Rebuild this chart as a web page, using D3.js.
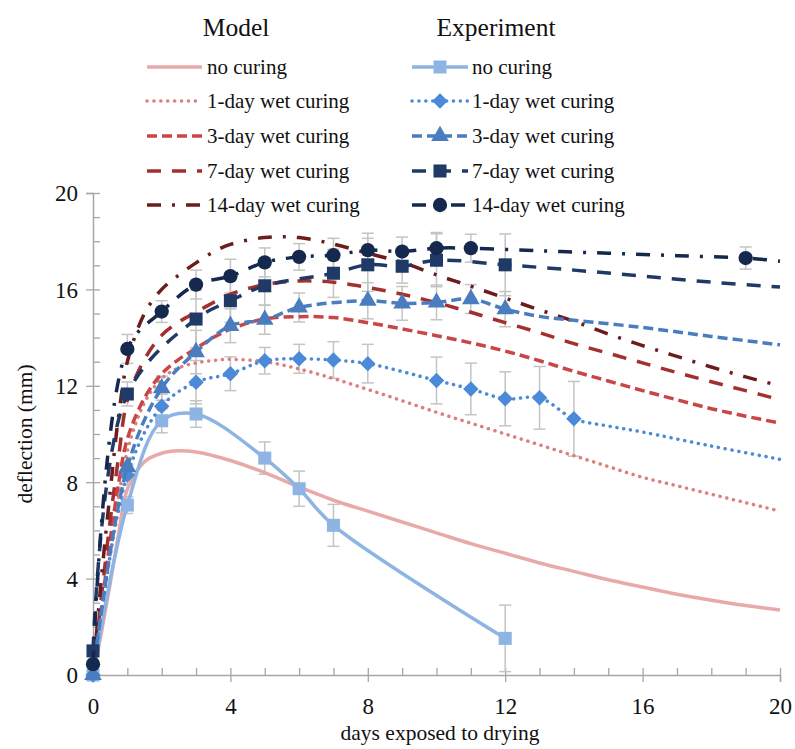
<!DOCTYPE html>
<html><head><meta charset="utf-8">
<script src="https://cdn.jsdelivr.net/npm/d3@7"></script>
</head>
<body style="margin:0;background:#fff">
<svg id="chart" width="795" height="749"></svg>
<script>
// ---------- data ----------
const modelDays = [0,0.25,0.5,0.75,1,1.5,2,2.5,3,3.5,4,5,6,7,8,9,10,11,12,13,14,15,16,17,18,19,20];
const modelNoCuring = [0,1.8,3.8,5.9,7.7,8.85,9.2,9.3,9.25,9.1,8.9,8.4,7.8,7.25,6.8,6.35,5.9,5.45,5.05,4.65,4.3,3.95,3.65,3.35,3.1,2.88,2.7];
const model1Day = [0,2.4,5.0,7.4,9.3,11.3,12.3,12.75,12.95,13.05,13.1,13.0,12.7,12.3,11.85,11.38,10.9,10.45,10.0,9.55,9.1,8.65,8.2,7.85,7.5,7.15,6.8];
const model3Day = [0,2.8,5.6,8.0,9.8,11.5,12.5,13.1,13.55,14.0,14.35,14.78,14.87,14.83,14.62,14.36,14.08,13.78,13.44,13.04,12.6,12.2,11.8,11.42,11.05,10.74,10.45];
const model7Day = [0,3.3,6.4,9.1,11.4,13.1,14.1,14.65,15.05,15.45,15.8,16.2,16.35,16.3,16.08,15.8,15.45,15.05,14.62,14.2,13.75,13.35,12.95,12.55,12.17,11.8,11.42];
const model14Day = [0,4.1,7.6,10.8,13.0,15.0,16.0,16.6,17.1,17.55,17.87,18.15,18.15,17.88,17.5,17.12,16.6,16.13,15.64,15.15,14.68,14.15,13.67,13.22,12.78,12.37,12.0];

// measured points (markers + error bars)
const expNoDays = [0,1,2,3,5,6,7,12];
const expNoVals = [0,7.05,10.55,10.83,9.0,7.73,6.21,1.52];
const expNoErr  = [0.15,0.35,0.5,0.55,0.67,0.73,0.87,1.38];
const exp1Days = [0,1,2,3,4,5,6,7,8,10,11,12,13,14];
const exp1Vals = [0,8.3,11.15,12.15,12.5,13.04,13.12,13.07,12.92,12.22,11.87,11.46,11.5,10.63];
const exp1Err  = [0.1,0.4,0.5,0.9,0.7,0.55,0.6,0.76,0.8,0.97,1.07,1.12,1.3,1.55];
const exp3Days = [0,1,2,3,4,5,6,8,9,10,11,12];
const exp3Vals = [0,8.63,11.9,13.4,14.49,14.74,15.25,15.53,15.42,15.46,15.6,15.18];
const exp3Err  = [0.1,0.4,0.5,0.9,0.7,0.6,0.6,0.75,0.7,0.72,0.6,0.73];
const exp7Days = [0,1,3,4,5,7,8,9,10,12];
const exp7Vals = [1.0,11.66,14.77,15.53,16.15,16.67,17.02,16.96,17.21,17.02];
const exp7Err  = [0.1,0.5,1.2,0.9,0.8,1.0,1.1,0.7,1.1,1.28];
const exp14Days = [0,1,2,3,4,5,6,7,8,9,10,11,19];
const exp14Vals = [0.45,13.53,15.08,16.2,16.55,17.12,17.35,17.42,17.63,17.57,17.71,17.71,17.3];
const exp14Err  = [0.1,0.6,0.45,0.6,0.7,0.6,0.55,0.7,0.7,0.6,0.65,0.58,0.46];

// line continuation beyond the last measured point (no markers)
const exp1TailDays = [15,16,18,20];
const exp1TailVals = [10.33,10.08,9.5,8.95];
const exp3TailDays = [13,14,16,18,20];
const exp3TailVals = [14.88,14.72,14.42,14.05,13.7];
const exp7TailDays = [14,16,18,20];
const exp7TailVals = [16.8,16.55,16.3,16.1];
const exp14TailDays = [13,15,17,20];
const exp14TailVals = [17.6,17.5,17.4,17.17];

const seriesLabels = ["no curing","1-day wet curing","3-day wet curing","7-day wet curing","14-day wet curing"];
const xTicks = [0,4,8,12,16,20];
const yTicks = [0,4,8,12,16,20];

// ---------- setup ----------
const FONT = "'Liberation Serif', serif";
const svg = d3.select("#chart");
const x = d3.scaleLinear().domain([0,20]).range([93,780]);
const y = d3.scaleLinear().domain([0,20]).range([675,193]);
const axisColor = "#a6a6a6";

const modelStyles = [
  {color:"#e8aaa9", dash:null, cap:"butt"},
  {color:"#dc7f7d", dash:"0.1,6.8", cap:"round"},
  {color:"#c94646", dash:"10,5", cap:"butt"},
  {color:"#a32f2e", dash:"14,11", cap:"butt"},
  {color:"#6b1d1d", dash:"14,11,3,11", cap:"butt"}
];
const expStyles = [
  {color:"#8db4e2", dash:null, cap:"butt", shape:"square"},
  {color:"#4a8ad8", dash:"0.1,6.8", cap:"round", shape:"diamond"},
  {color:"#4a7dbf", dash:"10,5", cap:"butt", shape:"triangle"},
  {color:"#1f3a66", dash:"14,11", cap:"butt", shape:"square"},
  {color:"#14294d", dash:"14,11,3,11", cap:"butt", shape:"circle"}
];

const modelSeries = [modelNoCuring, model1Day, model3Day, model7Day, model14Day];
const expSeries = [
  {d:expNoDays, v:expNoVals, e:expNoErr, tailD:[], tailV:[]},
  {d:exp1Days, v:exp1Vals, e:exp1Err, tailD:exp1TailDays, tailV:exp1TailVals},
  {d:exp3Days, v:exp3Vals, e:exp3Err, tailD:exp3TailDays, tailV:exp3TailVals},
  {d:exp7Days, v:exp7Vals, e:exp7Err, tailD:exp7TailDays, tailV:exp7TailVals},
  {d:exp14Days, v:exp14Vals, e:exp14Err, tailD:exp14TailDays, tailV:exp14TailVals}
];

function symPath(shape){
  if(shape==="square") return d3.symbol().type(d3.symbolSquare).size(170)();
  if(shape==="diamond") return d3.symbol().type(d3.symbolSquare).size(120)();
  if(shape==="triangle") return d3.symbol().type(d3.symbolTriangle).size(135)();
  return d3.symbol().type(d3.symbolCircle).size(160)();
}
function txt(sel, size){
  return sel.style("font-family",FONT).style("font-size",size+"px").attr("fill","#111");
}

// ---------- axes ----------
const xMinor = d3.range(0,21).filter(v=>v%4!==0);
const yMinor = d3.range(0,21).filter(v=>v%4!==0);

const gxMinor = svg.append("g").attr("transform","translate(0,675)")
  .call(d3.axisBottom(x).tickValues(xMinor).tickSize(-7).tickFormat(""));
const gx = svg.append("g").attr("transform","translate(0,675)")
  .call(d3.axisBottom(x).tickValues(xTicks).tickSize(7).tickFormat(d3.format("d")));
gx.selectAll(".tick line").attr("y1",-7).attr("y2",7);
gx.selectAll(".tick text").attr("y",23).attr("dy","0.71em");

const gyMinor = svg.append("g").attr("transform","translate(93,0)")
  .call(d3.axisLeft(y).tickValues(yMinor).tickSize(-7).tickFormat(""));
const gy = svg.append("g").attr("transform","translate(93,0)")
  .call(d3.axisLeft(y).tickValues(yTicks).tickSize(7).tickFormat(d3.format("d")));
gy.selectAll(".tick line").attr("x1",7).attr("x2",-7);
gy.selectAll(".tick text").attr("x",-15).attr("dy","0.34em");

[gx,gy,gxMinor,gyMinor].forEach(g=>{
  g.select(".domain").attr("stroke",axisColor).attr("stroke-width",1.5);
  g.selectAll(".tick line").attr("stroke",axisColor).attr("stroke-width",1.3);
  txt(g.selectAll(".tick text"),23);
});
gxMinor.select(".domain").remove();
gyMinor.select(".domain").remove();

// axis titles
txt(svg.append("text").attr("x",440).attr("y",740).attr("text-anchor","middle"),21.5).text("days exposed to drying");
txt(svg.append("text").attr("transform","translate(32,434) rotate(-90)").attr("text-anchor","middle"),21.5).text("deflection (mm)");

// ---------- plot ----------
const plot = svg.append("g");

// error bars
expSeries.forEach((s)=>{
  const g = plot.append("g");
  s.d.forEach((day,i)=>{
    const cx = x(day), y1 = y(s.v[i]+s.e[i]), y2 = y(s.v[i]-s.e[i]);
    g.append("line").attr("x1",cx).attr("x2",cx).attr("y1",y1).attr("y2",y2)
      .attr("stroke","#c4c4c4").attr("stroke-width",1.5);
    [y1,y2].forEach(yy=>g.append("line").attr("x1",cx-6).attr("x2",cx+6).attr("y1",yy).attr("y2",yy)
      .attr("stroke","#c4c4c4").attr("stroke-width",1.5));
  });
});

// model lines
const lineModel = d3.line().x((d,i)=>x(modelDays[i])).y(d=>y(d)).curve(d3.curveCatmullRom.alpha(0.5));
modelSeries.forEach((vals,i)=>{
  const st = modelStyles[i];
  plot.append("path").attr("d",lineModel(vals)).attr("fill","none")
    .attr("stroke",st.color).attr("stroke-width",3.5)
    .attr("stroke-dasharray",st.dash).attr("stroke-linecap",st.cap);
});

// experiment lines + markers
expSeries.forEach((s,si)=>{
  const st = expStyles[si];
  const pts = s.d.map((d,i)=>[d,s.v[i]]).concat(s.tailD.map((d,i)=>[d,s.tailV[i]]))
    .sort((a,b)=>a[0]-b[0]).map(p=>[x(p[0]),y(p[1])]);
  plot.append("path").attr("d",d3.line().curve(d3.curveCatmullRom.alpha(0.5))(pts)).attr("fill","none")
    .attr("stroke",st.color).attr("stroke-width",3.5)
    .attr("stroke-dasharray",st.dash).attr("stroke-linecap",st.cap);
  s.d.forEach((d,i)=>{
    plot.append("path").attr("d",symPath(st.shape))
      .attr("transform",`translate(${x(d)},${y(s.v[i])})`+(st.shape==="diamond"?" rotate(45)":""))
      .attr("fill",st.color);
  });
});

// ---------- legend ----------
const leg = svg.append("g");
txt(leg.append("text").attr("x",236).attr("y",36).attr("text-anchor","middle"),25.5).text("Model");
txt(leg.append("text").attr("x",496).attr("y",36).attr("text-anchor","middle"),25.5).text("Experiment");
const rowY = [67,101,136,171,205];
seriesLabels.forEach((lab,i)=>{
  const ly = rowY[i];
  const ms = modelStyles[i];
  leg.append("line").attr("x1",147).attr("x2",202).attr("y1",ly).attr("y2",ly)
    .attr("stroke",ms.color).attr("stroke-width",3.5).attr("stroke-dasharray",ms.dash).attr("stroke-linecap",ms.cap);
  txt(leg.append("text").attr("x",207).attr("y",ly+7),21).text(lab);
  const es = expStyles[i];
  leg.append("line").attr("x1",412).attr("x2",468).attr("y1",ly).attr("y2",ly)
    .attr("stroke",es.color).attr("stroke-width",3.5).attr("stroke-dasharray",es.dash).attr("stroke-linecap",es.cap);
  leg.append("path").attr("d",symPath(es.shape))
    .attr("transform",`translate(440,${ly})`+(es.shape==="diamond"?" rotate(45)":"")).attr("fill",es.color);
  txt(leg.append("text").attr("x",472).attr("y",ly+7),21).text(lab);
});
</script>
</body></html>
